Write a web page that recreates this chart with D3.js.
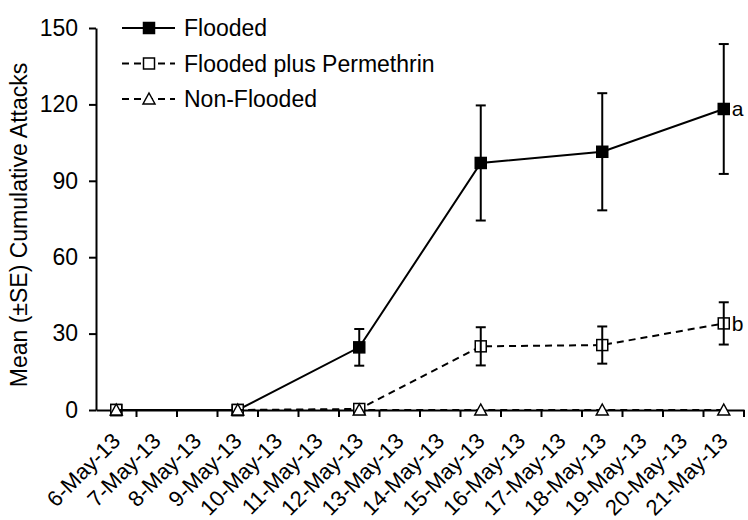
<!DOCTYPE html>
<html>
<head>
<meta charset="utf-8">
<script src="https://cdn.jsdelivr.net/npm/d3@7"></script>
<style>
body { margin: 0; background: #fff; }
text { font-family: "Liberation Sans", Arial, sans-serif; fill: #000; }
</style>
</head>
<body>
<svg></svg>
<script>
// categories on the x axis
var dates = ["6-May-13","7-May-13","8-May-13","9-May-13","10-May-13","11-May-13","12-May-13","13-May-13",
             "14-May-13","15-May-13","16-May-13","17-May-13","18-May-13","19-May-13","20-May-13","21-May-13"]
var sampleDates = ["6-May-13","9-May-13","12-May-13","15-May-13","18-May-13","21-May-13"]
// series: mean and SE
var flooded = [0, 0, 24.6, 97, 101.4, 118.2]
var floodedSE = [0, 0, 7.2, 22.6, 23, 25.5]
var permethrin = [0, 0, 0.4, 25, 25.5, 34]
var permethrinSE = [0, 0, 0, 7.5, 7.3, 8.3]
var nonFlooded = [0, 0, 0, 0, 0, 0]
var yTicks = [0, 30, 60, 90, 120, 150]
var letters = ["a", "b"]

var screen = {width: 748, height: 520}
var margins = {top: 28, left: 96, right: 4, bottom: 110}

var svg = d3.select("svg").attr("width", screen.width).attr("height", screen.height)

var x = d3.scaleBand().domain(dates).range([margins.left, screen.width - margins.right]).padding(0)
var y = d3.scaleLinear().domain([0, 150]).range([screen.height - margins.bottom, margins.top])

var cx = function(d) { return x(d) + x.bandwidth() / 2 }

// y axis
var yAxis = svg.append("g").attr("transform", "translate(" + margins.left + ",0)")
    .call(d3.axisLeft(y).tickValues(yTicks).tickSize(7).tickSizeOuter(0).tickPadding(11))
yAxis.selectAll("text").style("font-size", "23px")
yAxis.selectAll("line, path").attr("stroke", "#000").attr("stroke-width", 2)

// x axis, ticks between categories
var xAxis = svg.append("g").attr("transform", "translate(0," + y(0) + ")")
    .call(d3.axisBottom(x).tickSize(0).tickSizeOuter(0).tickPadding(0))
xAxis.select("path").attr("stroke", "#000").attr("stroke-width", 2)
xAxis.selectAll("text")
    .style("font-size", "22px")
    .attr("text-anchor", "end")
    .attr("transform", "translate(0,27) rotate(-45)")
    .attr("dy", "0.35em")
svg.append("g").selectAll("line").data(dates).enter().append("line")
    .attr("x1", function(d) { return x(d) + x.bandwidth() })
    .attr("x2", function(d) { return x(d) + x.bandwidth() })
    .attr("y1", y(0)).attr("y2", y(0) + 7)
    .attr("stroke", "#000").attr("stroke-width", 2)

// y label
svg.append("text")
    .attr("transform", "translate(27," + ((y(0) + y(150)) / 2 + 6) + ") rotate(-90)")
    .attr("text-anchor", "middle")
    .style("font-size", "23px")
    .text("Mean (\u00b1SE) Cumulative Attacks")

var line = d3.line().x(function(d, i) { return cx(sampleDates[i]) }).y(function(d) { return y(d) })

var errorBars = function(vals, se) {
    var g = svg.append("g").attr("stroke", "#000").attr("stroke-width", 2)
    vals.forEach(function(v, i) {
        if (se[i] == 0) return
        var px = cx(sampleDates[i])
        g.append("line").attr("x1", px).attr("x2", px).attr("y1", y(v - se[i])).attr("y2", y(v + se[i]))
        g.append("line").attr("x1", px - 5).attr("x2", px + 5).attr("y1", y(v + se[i])).attr("y2", y(v + se[i]))
        g.append("line").attr("x1", px - 5).attr("x2", px + 5).attr("y1", y(v - se[i])).attr("y2", y(v - se[i]))
    })
}

var square = function(sel, px, py, filled) {
    sel.append("rect").attr("x", px - 5.5).attr("y", py - 5.5).attr("width", 11).attr("height", 11)
        .attr("fill", filled ? "#000" : "#fff").attr("stroke", "#000").attr("stroke-width", 1.5)
}
var triangle = function(sel, px, py) {
    sel.append("path").attr("d", "M" + px + "," + (py - 6) + "L" + (px + 6) + "," + (py + 5) + "L" + (px - 6) + "," + (py + 5) + "Z")
        .attr("fill", "#fff").attr("stroke", "#000").attr("stroke-width", 1.5)
}

// flooded
errorBars(flooded, floodedSE)
svg.append("path").datum(flooded).attr("d", line).attr("fill", "none").attr("stroke", "#000").attr("stroke-width", 2)
var gF = svg.append("g")
flooded.forEach(function(v, i) { square(gF, cx(sampleDates[i]), y(v), true) })

// flooded plus permethrin
svg.append("path").datum(permethrin).attr("d", line).attr("fill", "none").attr("stroke", "#000")
    .attr("stroke-width", 2).attr("stroke-dasharray", "7,5")
var gP = svg.append("g")
permethrin.forEach(function(v, i) { square(gP, cx(sampleDates[i]), y(v), false) })
errorBars(permethrin, permethrinSE)

// non-flooded
svg.append("path").datum(nonFlooded).attr("d", line).attr("fill", "none").attr("stroke", "#000")
    .attr("stroke-width", 2).attr("stroke-dasharray", "7,5")
var gN = svg.append("g")
nonFlooded.forEach(function(v, i) { triangle(gN, cx(sampleDates[i]), y(v)) })

// significance letters
svg.append("text").attr("x", cx(sampleDates[5]) + 8).attr("y", y(flooded[5])).attr("dy", "0.35em")
    .style("font-size", "21px").text(letters[0])
svg.append("text").attr("x", cx(sampleDates[5]) + 8).attr("y", y(permethrin[5])).attr("dy", "0.35em")
    .style("font-size", "21px").text(letters[1])

// legend
var legend = [
    {name: "Flooded", dash: null, mark: "fsq"},
    {name: "Flooded plus Permethrin", dash: "7,5", mark: "osq"},
    {name: "Non-Flooded", dash: "7,5", mark: "tri"}
]
legend.forEach(function(l, i) {
    var ly = 28 + i * 35.5
    svg.append("line").attr("x1", 122).attr("x2", 175).attr("y1", ly).attr("y2", ly)
        .attr("stroke", "#000").attr("stroke-width", 2).attr("stroke-dasharray", l.dash)
    if (l.mark == "tri") triangle(svg, 149, ly)
    else square(svg, 149, ly, l.mark == "fsq")
    svg.append("text").attr("x", 184).attr("y", ly).attr("dy", "0.35em").style("font-size", "23px").text(l.name)
})
</script>
</body>
</html>
